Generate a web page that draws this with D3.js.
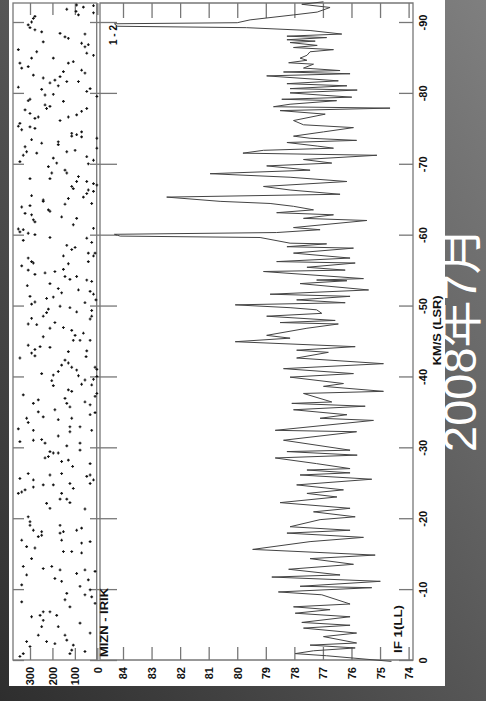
<!DOCTYPE html>
<html>
<head>
<meta charset="utf-8">
<script src="https://cdn.jsdelivr.net/npm/d3@7"></script>
<style>
  html, body { margin: 0; padding: 0; overflow: hidden; background: #444; }
  text { font-family: "Liberation Sans", Arial, sans-serif; font-weight: bold; fill: #111; }
  text.date { font-family: "Liberation Sans", "Noto Sans CJK JP", sans-serif; font-weight: normal; fill: #fff; }
</style>
</head>
<body>
<script>
const W = 486;
const H = 701;

// tick values / labels
const velTicks = [0, -10, -20, -30, -40, -50, -60, -70, -80, -90];
const ampTicks = [84, 83, 82, 81, 80, 79, 78, 77, 76, 75, 74];
const phaseTicks = [0, 100, 200, 300];

const axisTitle = "KM/S (LSR)";
const baselineLabel = "MIZN - IRIK";
const ifLabel = "IF 1(LL)";
const polLabel = "1 - 2";
const dateLabel = "2008年7月";

// spectrum (velocity km/s, amplitude)
const specVel = [
  -92.85, -92.5, -92.05, -91.4, -91.0, -90.3, -89.9, -89.75, -89.4, -89.2,
  -88.8, -88.3, -88.0, -87.8, -87.5, -87.3, -87.1, -86.7, -86.4, -86.1,
  -85.8, -85.3, -84.9, -84.6, -84.25, -84.05, -83.5, -83.15, -82.95, -82.7,
  -82.4, -81.7, -81.3, -81.0, -80.6, -80.4, -80.0, -79.7, -79.4, -79.1,
  -78.9, -78.4, -78.05, -77.85, -77.5, -77.0, -76.1, -75.5, -75.1, -74.5,
  -73.9, -73.6, -73.3, -73.0, -72.5, -72.2, -71.9, -71.5, -71.2, -70.6,
  -70.1, -69.7, -69.1, -68.6, -68.1, -67.5, -66.8, -66.3, -65.7, -65.3,
  -64.7, -64.4, -64.0, -63.5, -63.1, -62.8, -62.3, -62.0, -61.0, -60.7,
  -60.3, -60.05, -59.8, -59.6, -58.8, -58.7, -58.3, -58.1, -57.4, -56.7,
  -56.2, -56.0, -55.4, -55.0, -54.8, -53.8, -53.6, -53.5, -53.1, -52.2,
  -51.6, -51.3, -50.8, -50.4, -50.1, -49.7, -49.4, -48.9, -48.5, -47.9,
  -47.6, -47.4, -46.8, -45.8, -45.4, -44.9, -44.2, -43.7, -43.4, -42.6,
  -41.8, -41.1, -40.4, -39.9, -39.0, -38.6, -37.9, -37.6, -36.4, -36.2,
  -35.8, -35.3, -34.6, -34.1, -33.8, -32.4, -32.2, -31.0, -29.6, -29.4,
  -28.9, -28.5, -27.7, -27.0, -26.8, -26.4, -26.1, -25.5, -24.7, -24.0,
  -23.5, -23.0, -22.2, -21.4, -20.9, -20.2, -19.8, -18.8, -18.3, -17.9,
  -17.3, -16.7, -15.6, -14.8, -14.3, -13.5, -12.8, -12.0, -11.7, -11.1,
  -10.4, -10.2, -9.6, -9.2, -7.9, -7.5, -7.1, -6.6, -6.1, -5.3,
  -4.9, -4.5, -3.8, -3.3, -2.4, -2.1, -1.7, -1.3, -0.9, -0.6,
  0.2
];
const specAmp = [
  76.98, 77.74, 76.75, 77.2, 78.03, 79.55, 80.0, 84.3, 84.2, 79.67,
  77.45, 76.34, 78.26, 76.87, 78.26, 77.27, 78.15, 77.2, 78.03, 76.63,
  77.45, 77.56, 77.8, 77.56, 78.2, 77.33, 77.68, 76.4, 78.38, 76.05,
  78.97, 76.46, 78.26, 76.16, 78.15, 75.8, 78.15, 77.1, 75.99, 78.44,
  76.52, 78.15, 78.73, 74.65, 78.5, 76.92, 78.03, 77.68, 75.93, 76.98,
  78.03, 77.45, 75.82, 78.26, 77.2, 76.63, 79.08, 79.8, 75.11, 77.68,
  76.69, 78.97, 77.45, 80.95, 78.15, 76.16, 79.08, 78.15, 76.4, 82.47,
  80.6, 78.85, 78.03, 77.33, 78.62, 76.63, 77.68, 75.46, 78.03, 77.1,
  78.62, 84.3, 84.1, 79.2, 78.15, 76.87, 78.26, 75.93, 78.03, 76.05,
  78.62, 75.87, 77.56, 76.22, 79.08, 75.58, 77.22, 76.16, 77.8, 75.4,
  78.85, 76.05, 77.92, 76.22, 80.07, 78.15, 77.22, 77.04, 78.97, 76.57,
  78.5, 76.46, 77.56, 78.97, 78.15, 80.07, 75.87, 77.92, 76.81, 77.92,
  74.88, 78.38, 75.93, 78.15, 76.28, 76.98, 74.88, 77.68, 76.69, 78.09,
  75.52, 78.03, 76.16, 77.1, 75.23, 78.67, 75.82, 78.38, 76.05, 78.26,
  75.8, 78.67, 77.22, 76.05, 77.56, 76.05, 77.8, 75.29, 77.92, 76.28,
  77.56, 76.51, 78.5, 76.05, 77.33, 75.87, 77.1, 78.15, 76.05, 78.26,
  75.58, 77.45, 79.46, 75.17, 77.45, 75.93, 78.2, 76.4, 78.79, 74.99,
  77.8, 75.29, 78.56, 77.04, 76.05, 78.03, 76.75, 77.97, 76.05, 77.74,
  76.05, 77.68, 75.82, 76.98, 75.82, 77.45, 75.87, 77.33, 77.97, 76.87,
  74.6
];

// phase points (velocity km/s, phase deg)
const dotVel = [
  -92.4, -92.1, -92.3, -91.8, -91.5, -91.0, -91.3, -90.8, -90.5, -90.0,
  -89.6, -89.2, -88.9, -88.6, -88.4, -87.9, -87.7, -88.3, -87.2, -87.0,
  -86.5, -86.8, -86.1, -85.8, -85.6, -85.3, -84.9, -84.9, -84.4, -84.2,
  -84.2, -83.5, -83.7, -83.2, -82.8, -83.0, -82.5, -82.3, -82.1, -81.8,
  -81.4, -81.6, -81.6, -80.8, -80.5, -81.0, -80.2, -80.6, -79.5, -79.7,
  -79.8, -79.1, -78.9, -78.8, -78.3, -78.1, -77.8, -77.8, -77.6, -77.1,
  -77.4, -76.9, -76.6, -76.4, -76.6, -76.1, -75.7, -75.3, -75.2, -75.0,
  -74.8, -74.5, -74.3, -73.9, -74.1, -73.8, -73.6, -73.4, -72.9, -73.1,
  -72.7, -72.2, -72.4, -71.7, -71.2, -71.5, -71.9, -71.7, -71.0, -70.5,
  -70.8, -70.1, -70.3, -70.0, -69.6, -69.1, -68.7, -68.7, -67.9, -68.2,
  -67.5, -67.9, -66.8, -66.5, -67.5, -67.2, -67.0, -66.3, -65.8, -66.1,
  -65.3, -65.5, -64.9, -64.7, -65.1, -64.3, -64.4, -63.9, -64.1, -63.0,
  -62.8, -63.3, -63.5, -62.5, -62.1, -61.8, -62.3, -61.4, -60.8, -60.4,
  -60.7, -60.2, -60.0, -59.6, -59.5, -60.9,
  -59.2, -58.9, -58.5, -57.9, -58.2, -57.4, -57.4, -57.0, -56.2, -57.0,
  -56.7, -56.2, -56.0, -55.6, -55.1, -55.9, -55.0, -54.4, -54.6, -54.8,
  -54.1, -53.7, -54.1, -53.6, -53.4, -53.1, -52.8, -52.4, -51.8, -52.2,
  -52.0, -51.6, -51.3, -51.0, -51.2, -50.8, -50.5, -50.2, -50.4, -49.9,
  -49.7, -49.5, -49.0, -49.1, -49.3, -48.5, -48.1, -48.2, -48.5, -47.6,
  -47.3, -47.4, -46.8, -46.9, -46.5, -45.6, -45.8, -45.1, -45.1, -46.1,
  -45.1, -44.2, -44.4, -44.1, -43.8, -43.3, -42.9, -43.5, -43.6, -42.8,
  -42.6, -42.3, -41.6, -41.9, -41.3, -41.3, -41.0, -40.4, -40.2, -40.7,
  -40.9, -40.1, -39.6, -39.5, -40.0, -39.4, -38.7, -38.9, -38.8, -38.1,
  -37.9, -37.6, -37.2, -37.4, -36.2, -36.7, -36.9, -36.2, -35.7, -36.4,
  -36.0, -34.9, -34.6, -35.3, -35.0, -34.3, -34.1, -33.5, -33.9, -34.1,
  -32.4, -32.9, -32.9, -32.2, -31.6, -32.4, -32.6, -31.0, -31.1, -30.6,
  -30.8, -30.2, -30.6, -29.6, -29.4, -29.2, -28.7, -28.5, -29.2, -28.0,
  -28.2, -27.7, -27.3,
  -26.3, -25.6, -25.4, -26.1, -26.3, -26.1, -25.9, -25.4, -24.9, -24.9,
  -24.4, -24.7, -24.7, -24.2, -23.5, -23.7, -24.0, -23.5, -22.7, -22.2,
  -22.7, -22.1, -21.3, -21.4, -20.2, -19.5, -19.0, -18.3, -18.1, -17.4,
  -16.9, -16.0, -15.8, -17.6, -17.9, -18.1, -18.3, -18.6, -16.9, -19.0,
  -16.5, -16.7, -15.3, -15.1, -15.3, -14.3, -13.2, -12.9, -13.2, -12.7,
  -11.5, -11.1, -12.2, -12.7, -11.3, -12.5, -12.0, -10.6, -10.4, -9.9,
  -9.2, -8.9, -8.0, -9.4, -8.5, -7.5, -8.2, -6.1, -6.3, -6.8,
  -6.8, -6.3, -4.7, -5.6, -4.7, -3.5, -3.5, -2.8, -5.2, -3.8,
  -2.6, -1.9, -2.6, -2.3, -1.4, -0.9, -2.1, -1.2, -0.5, -0.9
];
const dotPhase = [
  92, 62, 17, 136, 95, 84, 17, 278, 285, 293,
  308, 300, 278, 248, 166, 144, 129, 55, 241, 70,
  55, 40, 352, 270, 47, 17, 293, 196, 107, 129,
  345, 337, 308, 70, 55, 151, 285, 166, 241, 189,
  211, 136, 84, 352, 248, 174, 47, 32, 2, 233,
  196, 300, 308, 151, 233, 211, 226, 47, 322, 300,
  70, 92, 129, 278, 263, 166, 345, 352, 300, 278,
  337, 70, 114, 114, 92, 70, 2, 293, 248, 174,
  174, 2, 322, 315, 330, 270, 99, 136, 47, 17,
  196, 181, 345, 40, 218, 144, 136, 203, 211, 84,
  92, 300, 114, 107, 47, 17, 2, 40, 47, 17,
  62, 293, 241, 241, 129, 144, 25, 337, 300, 322,
  293, 211, 218, 159, 285, 278, 92, 107, 352, 345,
  330, 308, 278, 211, 47, 17,
  330, 25, 136, 114, 99, 40, 10, 17, 40, 151,
  308, 293, 285, 337, 151, 129, 308, 278, 233, 189,
  144, 122, 92, 47, 25, 211, 312, 174, 159, 84,
  32, 17, 300, 226, 196, 6, 278, 293, 55, 166,
  122, 218, 226, 92, 25, 25, 32, 293, 241, 189,
  270, 308, 211, 151, 114, 241, 99, 77, 107, 62,
  32, 255, 308, 211, 278, 293, 278, 129, 47, 50,
  345, 144, 159, 129, 114, 10, 2, 248, 196, 174,
  92, 84, 17, 55, 2, 203, 196, 70, 25, 129,
  114, 2, 10, 330, 285, 263, 144, 136, 122, 55,
  32, 10, 32, 189, 263, 241, 315, 308, 174, 114,
  25, 77, 122, 122, 174, 285, 352, 285, 248, 233,
  345, 136, 77, 77, 211, 196, 218, 233, 174, 159,
  129, 32, 110,
  308, 345, 285, 211, 159, 32, 47, 17, 122, 32,
  285, 241, 196, 107, 352, 337, 322, 159, 136, 122,
  166, 226, 55, 211, 308, 300, 300, 285, 248, 263,
  337, 315, 278, 248, 166, 151, 92, 70, 159, 166,
  70, 32, 114, 70, 151, 293, 330, 241, 203, 166,
  189, 159, 92, 55, 40, 10, 315, 337, 77, 32,
  55, 25, 10, 136, 144, 122, 337, 293, 255, 241,
  211, 181, 174, 241, 248, 263, 144, 136, 77, 32,
  315, 300, 226, 189, 114, 122, 107, 55, 345, 330
];

const svg = d3.select("body").append("svg")
  .attr("width", W)
  .attr("height", H);

// slide background
const defs = svg.append("defs");
const grad = defs.append("linearGradient")
  .attr("id", "bg")
  .attr("x1", 1).attr("y1", 0)
  .attr("x2", 0).attr("y2", 1);
grad.append("stop").attr("offset", 0).attr("stop-color", "#7f7f7f");
grad.append("stop").attr("offset", 1).attr("stop-color", "#2e2e2e");

svg.append("rect").attr("width", W).attr("height", H).attr("fill", "url(#bg)");

// date (drawn under the white sheet, like on the slide)
svg.append("text")
  .attr("class", "date")
  .attr("transform", "translate(476,452) rotate(-90)")
  .attr("font-size", 47)
  .text(dateLabel);

svg.append("rect").attr("x", 9).attr("y", 0).attr("width", 436).attr("height", 686).attr("fill", "#fff");

// scales
const y = d3.scaleLinear().domain([0, -90]).range([660, 22]);
const xAmp = d3.scaleLinear().domain([74, 84]).range([408.6, 123]);
const xPh = d3.scaleLinear().domain([0, 300]).range([97.3, 30]);

const yTop = 3, yBot = 660;
const frameColor = "#777";

// frames
const frame = svg.append("g").attr("fill", "none").attr("stroke", frameColor).attr("stroke-width", 1.3);
frame.append("rect").attr("x", 13).attr("y", yTop).attr("width", 96.7 - 13).attr("height", yBot - yTop);
frame.append("path").attr("d", `M100,${yBot}V${yTop}H413V${yBot}Z`);

function styleAxis(g) {
  g.select(".domain").remove();
  g.selectAll(".tick line").attr("stroke", frameColor).attr("stroke-width", 1.3);
}

function rotateBottomLabels(g) {
  g.selectAll(".tick text")
    .attr("transform", "rotate(-90)")
    .attr("x", -7)
    .attr("y", 0)
    .attr("dy", "0.36em")
    .attr("text-anchor", "end")
    .attr("font-size", 11);
}

// amplitude axis (bottom, labels) and top ticks
svg.append("g")
  .attr("transform", `translate(0,${yBot})`)
  .call(d3.axisBottom(xAmp).tickValues(ampTicks).tickSizeInner(-13).tickSizeOuter(0).tickFormat(d => String(d)))
  .call(styleAxis)
  .call(rotateBottomLabels);
svg.append("g")
  .attr("transform", `translate(0,${yTop})`)
  .call(d3.axisTop(xAmp).tickValues(ampTicks).tickSizeInner(-15).tickSizeOuter(0).tickFormat(""))
  .call(styleAxis);

// phase axis
svg.append("g")
  .attr("transform", `translate(0,${yBot})`)
  .call(d3.axisBottom(xPh).tickValues(phaseTicks).tickSizeInner(-12).tickSizeOuter(0).tickFormat(d => String(d)))
  .call(styleAxis)
  .call(rotateBottomLabels);
svg.append("g")
  .attr("transform", `translate(0,${yTop})`)
  .call(d3.axisTop(xPh).tickValues(phaseTicks).tickSizeInner(-12).tickSizeOuter(0).tickFormat(""))
  .call(styleAxis);

// velocity axis (right, labels)
svg.append("g")
  .attr("transform", "translate(413,0)")
  .call(d3.axisRight(y).tickValues(velTicks).tickSizeInner(-14).tickSizeOuter(0).tickFormat(d => String(d)))
  .call(styleAxis)
  .call(g => g.selectAll(".tick text")
    .attr("transform", "rotate(-90)")
    .attr("x", 0)
    .attr("y", 10.5)
    .attr("dy", "0.36em")
    .attr("text-anchor", "middle")
    .attr("font-size", 11));
// velocity ticks on the left edges
svg.append("g")
  .attr("transform", "translate(13,0)")
  .call(d3.axisLeft(y).tickValues(velTicks).tickSizeInner(-11).tickSizeOuter(0).tickFormat(""))
  .call(styleAxis);
svg.append("g")
  .attr("transform", "translate(117,0)")
  .call(d3.axisLeft(y).tickValues(velTicks).tickSizeInner(27).tickSizeOuter(0).tickFormat(""))
  .call(styleAxis);

// titles
svg.append("text")
  .attr("transform", `translate(437,${y(-46.5)}) rotate(-90)`)
  .attr("text-anchor", "middle")
  .attr("dy", "0.36em")
  .attr("font-size", 11)
  .attr("textLength", 70)
  .attr("lengthAdjust", "spacingAndGlyphs")
  .text(axisTitle);

svg.append("text")
  .attr("transform", `translate(104,657) rotate(-90)`)
  .attr("dy", "0.36em")
  .attr("font-size", 11)
  .attr("textLength", 69)
  .attr("lengthAdjust", "spacingAndGlyphs")
  .text(baselineLabel);

svg.append("text")
  .attr("transform", `translate(398,653) rotate(-90)`)
  .attr("dy", "0.36em")
  .attr("font-size", 11)
  .attr("textLength", 48)
  .attr("lengthAdjust", "spacingAndGlyphs")
  .text(ifLabel);

svg.append("text")
  .attr("transform", `translate(113,45) rotate(-90)`)
  .attr("dy", "0.36em")
  .attr("font-size", 10)
  .text(polLabel);

// phase points
svg.append("g")
  .selectAll("path")
  .data(d3.range(dotVel.length))
  .join("path")
  .attr("transform", i => `translate(${xPh(dotPhase[i])},${y(dotVel[i])})`)
  .attr("d", "M-1.4,0H1.4M0,-1.4V1.4")
  .attr("stroke", "#111")
  .attr("stroke-width", 1.1);

// spectrum
const spec = specVel.map((v, i) => ({ v: v, a: specAmp[i] }));
const line = d3.line()
  .x(d => xAmp(d.a))
  .y(d => y(d.v));
svg.append("path")
  .datum(spec)
  .attr("d", line)
  .attr("fill", "none")
  .attr("stroke", "#444")
  .attr("stroke-width", 1)
  .attr("stroke-linejoin", "round");
</script>
</body>
</html>
